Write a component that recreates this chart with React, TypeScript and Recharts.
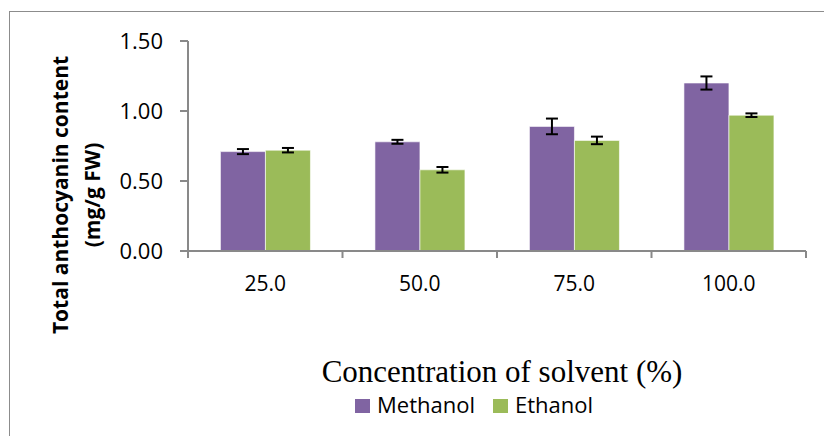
import { Bar, BarChart, ErrorBar, XAxis, YAxis } from "recharts";

const categories = ["25.0", "50.0", "75.0", "100.0"];
const methanol = [0.71, 0.78, 0.89, 1.2];
const methanolErr = [0.018, 0.014, 0.056, 0.047];
const ethanol = [0.72, 0.58, 0.79, 0.97];
const ethanolErr = [0.016, 0.02, 0.027, 0.013];
const yTicks = [0, 0.5, 1, 1.5];

const data = categories.map((name, i) => ({
	name,
	methanol: methanol[i],
	methanolErr: methanolErr[i],
	ethanol: ethanol[i],
	ethanolErr: ethanolErr[i],
}));

const AXIS = "#898989";
const PURPLE = "#8064A2";
const GREEN = "#9BBB59";

function CategoryTick(props: any) {
	const { x, y, payload, index } = props;
	const half = payload && payload.offset ? payload.offset : 77.25;
	return (
		<g>
			<line x1={x - half} y1={y} x2={x - half} y2={y + 7} stroke={AXIS} strokeWidth={2} />
			{index === categories.length - 1 && (
				<line x1={x + half} y1={y} x2={x + half} y2={y + 7} stroke={AXIS} strokeWidth={2} />
			)}
			<text x={x} y={y + 40} textAnchor="middle" fontSize={21} fill="#000" fontFamily="Open Sans">
				{payload.value}
			</text>
		</g>
	);
}

function YTitle() {
	return (
		<g fontFamily="Open Sans" fontWeight="bold" fontSize={21} fill="#000">
			<text transform="translate(68,195) rotate(-90)" textAnchor="middle">
				Total anthocyanin content
			</text>
			<text transform="translate(100,195) rotate(-90)" textAnchor="middle">
				(mg/g FW)
			</text>
		</g>
	);
}

function XTitle() {
	return (
		<text x={502} y={382} textAnchor="middle" fontFamily="Liberation Serif" fontSize={31} fill="#000">
			Concentration of solvent (%)
		</text>
	);
}

export default function App() {
	return (
		<div style={{ position: "absolute", left: 0, top: 0, width: 824, height: 436, overflow: "hidden", background: "#fff" }}>
			<div style={{ position: "absolute", left: 9, top: 11, width: 900, height: 500, border: "1px solid #8c8c8c" }} />
			<BarChart
				width={824}
				height={436}
				data={data}
				margin={{ top: 41, right: 18, left: 128, bottom: 155 }}
				barCategoryGap="21%"
				barGap={0}
				style={{ position: "absolute", left: 0, top: 0 }}
			>
				<XAxis
					dataKey="name"
					height={30}
					stroke={AXIS}
					strokeWidth={2}
					tickLine={false}
					tickSize={0}
					tickMargin={0}
					tick={<CategoryTick />}
					label={{ content: () => <XTitle /> }}
				/>
				<YAxis
					domain={[0, 1.5]}
					ticks={yTicks}
					width={60}
					stroke={AXIS}
					strokeWidth={2}
					tickSize={8}
					tickMargin={17}
					tick={{ fill: "#000", fontSize: 22, fontFamily: "Open Sans" }}
					tickFormatter={(v: number) => v.toFixed(2)}
					label={{ content: () => <YTitle /> }}
				/>
				<Bar dataKey="methanol" fill={PURPLE} stroke="#ffffff" strokeOpacity={0.6} isAnimationActive={false}>
					<ErrorBar dataKey="methanolErr" width={6} stroke="#000" strokeWidth={2} />
				</Bar>
				<Bar dataKey="ethanol" fill={GREEN} stroke="#ffffff" strokeOpacity={0.6} isAnimationActive={false}>
					<ErrorBar dataKey="ethanolErr" width={6} stroke="#000" strokeWidth={2} />
				</Bar>
			</BarChart>
			<div style={{ position: "absolute", left: 355, top: 399, width: 15, height: 14, background: PURPLE }} />
			<div style={{ position: "absolute", left: 377, top: 390, fontFamily: "Open Sans", fontSize: 22, lineHeight: "28px" }}>
				Methanol
			</div>
			<div style={{ position: "absolute", left: 493, top: 399, width: 15, height: 14, background: GREEN }} />
			<div style={{ position: "absolute", left: 515, top: 390, fontFamily: "Open Sans", fontSize: 22, lineHeight: "28px" }}>
				Ethanol
			</div>
		</div>
	);
}
